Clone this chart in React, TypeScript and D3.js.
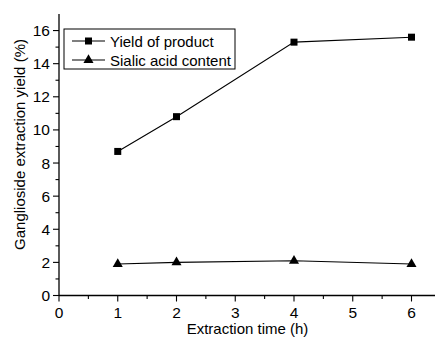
import React from "react";
import * as d3 from "d3";

const times = [1, 2, 4, 6];
const yieldOfProduct = [8.7, 10.8, 15.3, 15.6];
const sialicAcid = [1.9, 2.0, 2.1, 1.9];
const xTicks = [0, 1, 2, 3, 4, 5, 6];
const yTicks = [0, 2, 4, 6, 8, 10, 12, 14, 16];
const seriesNames = ["Yield of product", "Sialic acid content"];

export default function App() {
  const W = 436, H = 338;
  const x0 = 59, x1 = 435;
  const y0 = 295.5, y1 = 14;
  const x = d3.scaleLinear().domain([0, 6.4]).range([x0, x0 + 6.4 * 58.75]);
  const y = d3.scaleLinear().domain([0, 17]).range([y0, y1]);
  const line = d3.line<number>().x((_, i) => x(times[i])).y((d) => y(d));
  const xMinor = d3.range(0.5, 6.5, 1);
  const yMinor = d3.range(1, 17, 2);
  const font = "'Liberation Sans', Arial, sans-serif";
  const tri = d3.symbol(d3.symbolTriangle, 44)() as string;

  return (
    <svg width={W} height={H} style={{ position: "absolute", left: 0, top: 0, background: "#fff" }} fontFamily={font}>
      <rect width={W} height={H} fill="#fff" />
      {/* axes */}
      <line x1={x0} x2={x1} y1={y0} y2={y0} stroke="#000" strokeWidth={1.3} />
      <line x1={x0} x2={x0} y1={y0} y2={y1} stroke="#000" strokeWidth={1.3} />
      {xTicks.map((t) => (
        <g key={"xt" + t}>
          <line x1={x(t)} x2={x(t)} y1={y0} y2={y0 + 6} stroke="#000" strokeWidth={1.1} />
          <text x={x(t)} y={y0 + 22} textAnchor="middle" fontSize={15.5}>{t}</text>
        </g>
      ))}
      {xMinor.map((t) => (
        <line key={"xm" + t} x1={x(t)} x2={x(t)} y1={y0} y2={y0 + 3.5} stroke="#000" strokeWidth={1.1} />
      ))}
      {yTicks.map((t) => (
        <g key={"yt" + t}>
          <line x1={x0 - 6} x2={x0} y1={y(t)} y2={y(t)} stroke="#000" strokeWidth={1.1} />
          <text x={x0 - 9} y={y(t) + 5.5} textAnchor="end" fontSize={15.5}>{t}</text>
        </g>
      ))}
      {yMinor.map((t) => (
        <line key={"ym" + t} x1={x0 - 3.5} x2={x0} y1={y(t)} y2={y(t)} stroke="#000" strokeWidth={1.1} />
      ))}
      <text x={247.5} y={334} textAnchor="middle" fontSize={15}>Extraction time (h)</text>
      <text transform={`translate(25,144.5) rotate(-90)`} textAnchor="middle" fontSize={15}>
        Ganglioside extraction yield (%)
      </text>
      {/* series */}
      <path d={line(yieldOfProduct) || ""} fill="none" stroke="#000" strokeWidth={1.1} />
      <path d={line(sialicAcid) || ""} fill="none" stroke="#000" strokeWidth={1.1} />
      {yieldOfProduct.map((v, i) => (
        <rect key={"s" + i} x={x(times[i]) - 3.5} y={y(v) - 3.5} width={7} height={7} fill="#000" />
      ))}
      {sialicAcid.map((v, i) => (
        <path key={"t" + i} d={tri} transform={`translate(${x(times[i])},${y(v)})`} fill="#000" />
      ))}
      {/* legend */}
      <rect x={64} y={29} width={171} height={40} fill="#fff" stroke="#000" strokeWidth={1} />
      <line x1={72} x2={105} y1={41} y2={41} stroke="#000" strokeWidth={1.1} />
      <rect x={88.5 - 3.5} y={41 - 3.5} width={7} height={7} fill="#000" />
      <text x={110} y={46.5} fontSize={15}>{seriesNames[0]}</text>
      <line x1={72} x2={105} y1={60} y2={60} stroke="#000" strokeWidth={1.1} />
      <path d={tri} transform="translate(88.5,60)" fill="#000" />
      <text x={110} y={65.5} fontSize={15}>{seriesNames[1]}</text>
    </svg>
  );
}
